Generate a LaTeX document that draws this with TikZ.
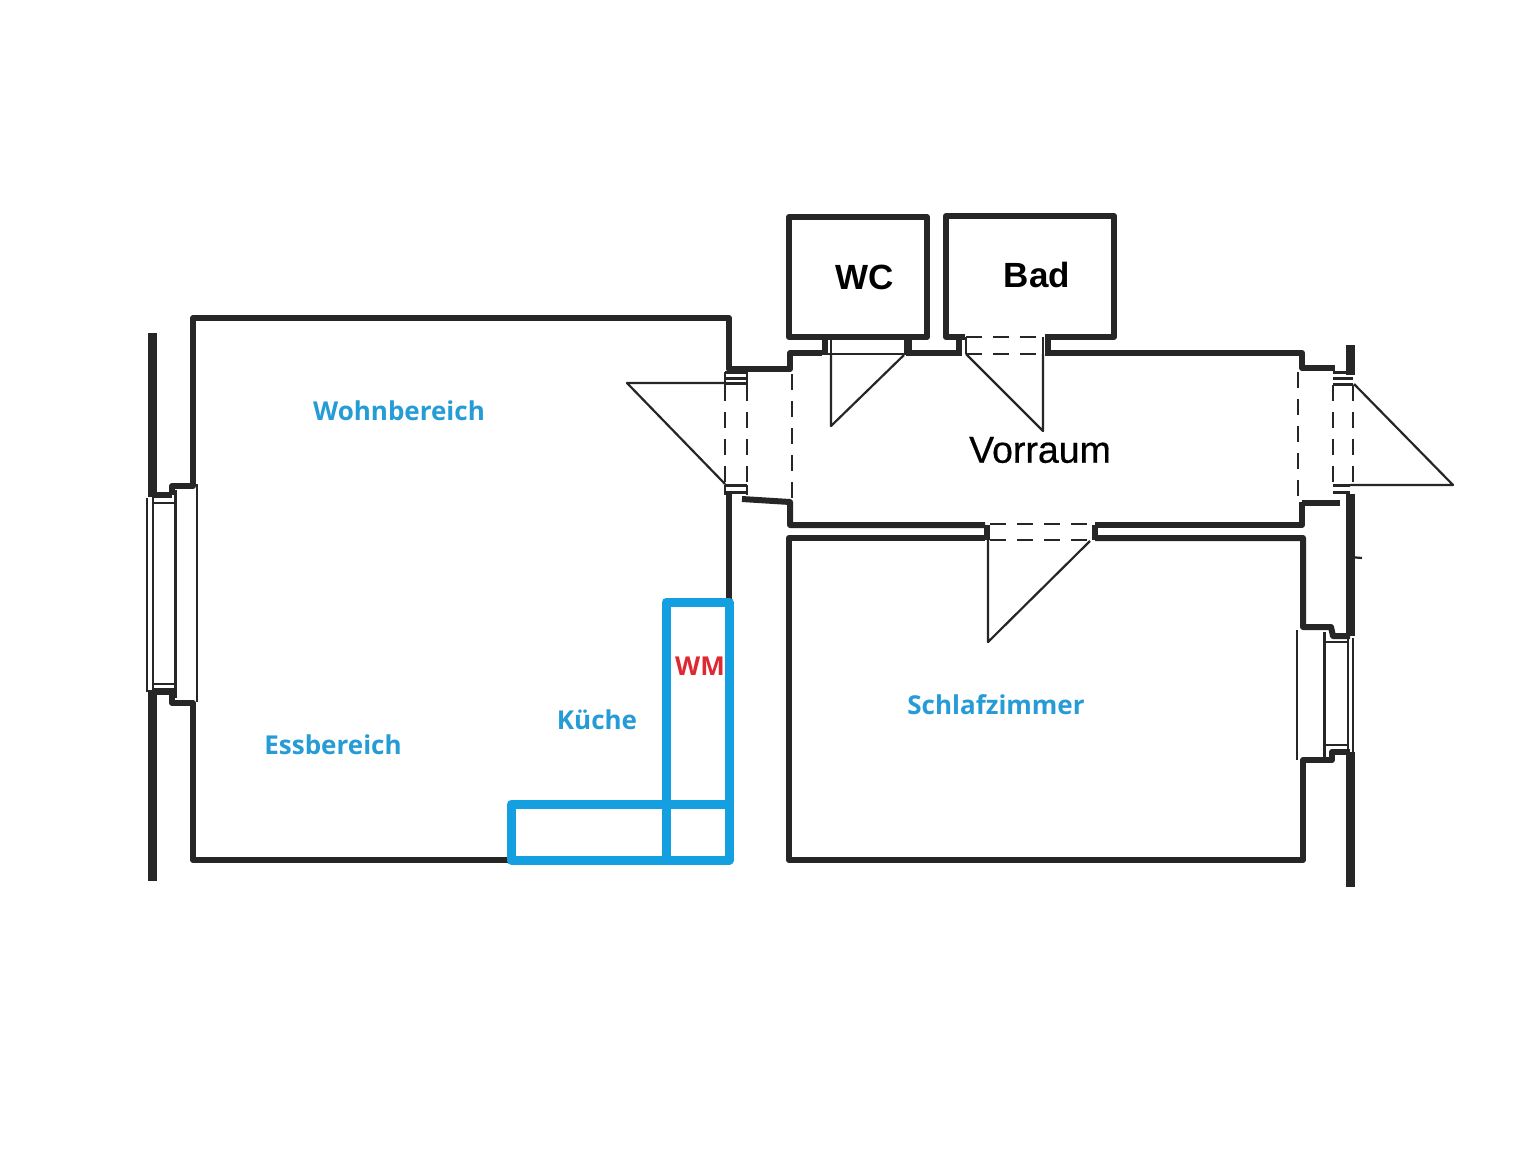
\documentclass[tikz,border=0pt]{standalone}
\usepackage{fontspec}
\setmainfont{Liberation Sans}
\newfontfamily\labelfont{Open Sans}
\newfontfamily\hallfont[FakeBold=0.5]{Liberation Sans}
\definecolor{planblue}{RGB}{20,160,224}
\definecolor{labelblue}{RGB}{38,156,214}
\definecolor{wmred}{RGB}{222,40,50}
\definecolor{planblack}{RGB}{38,38,38}
\tikzset{
	wall/.style={draw=planblack, line width=6pt},
	heavy/.style={draw=planblack, line width=9pt},
	med/.style={draw=planblack, line width=3pt},
	fine/.style={draw=planblack, line width=2.2pt},
	gap/.style={draw=planblack, line width=2.8pt, dash pattern=on 16pt off 11pt},
	room/.style={font=\bfseries\fontsize{35}{35}\selectfont, text=black},
	area/.style={font=\labelfont\bfseries\fontsize{26}{26}\selectfont, text=labelblue},
	unit/.style={draw=planblue, line width=9pt}
}
\begin{document}
\begin{tikzpicture}[x=1pt, y=-1pt, line join=round, line cap=butt]
	\useasboundingbox (0,0) rectangle (1536,1152);
	\fill[white] (0,0) rectangle (1536,1152);
	% outer walls
	\draw[heavy] (152,333)--(152,497);
	\draw[heavy] (152,690)--(152,881);
	\draw[heavy] (1350,345)--(1350,375);
	\draw[heavy] (1350,494)--(1350,636);
	\draw[heavy] (1350,752)--(1350,887);
	\draw[fine] (1350,557)--(1362,558);
	% living room
	\draw[wall] (172,495)--(172,486)--(193,486)--(193,318)--(729,318)--(729,369)--(790,369)--(790,353)--(822,353);
	\draw[wall] (152,495)--(172,495);
	\draw[wall] (152,692)--(172,692)--(172,703)--(193,703)--(193,860)--(729,860);
	\draw[wall] (729,494)--(729,600);
	% left window
	\draw[fine] (147,498)--(147,692);
	\draw[fine] (153,498)--(153,692);
	\draw[med] (175,490)--(175,698);
	\draw[fine] (197,484)--(197,702);
	\draw[fine] (154,503)--(175,503);
	\draw[fine] (154,684)--(175,684);
	\draw[fine] (154,689)--(175,689);
	% wc and bath
	\draw[wall] (789,337) -- (789,217) -- (927,217) -- (927,337) -- cycle;
	\draw[wall] (965,337) -- (946,337) -- (946,216) -- (1114,216) -- (1114,337) -- (1045,337);
	\draw[gap] (966,337)--(1045,337);
	\draw[gap] (966,354)--(1045,354);
	\draw[fine] (822,354)--(906,354);
	% door jambs up top
	\draw[wall] (825,337)--(825,354);
	\draw[wall] (909,337)--(909,354);
	\draw[wall] (959,337)--(959,354);
	\draw[wall] (1048,337)--(1048,354);
	\draw[fine] (831,337)--(831,354);
	\draw[fine] (905,337)--(905,354);
	\draw[fine] (966,337)--(966,354);
	\draw[fine] (1043,337)--(1043,354);
	\draw[wall] (906,353)--(962,353);
	\draw[wall] (1045,353)--(1302,353)--(1302,368)--(1335,368);
	% hall doorways
	\draw[wall] (742,499)--(790,502)--(790,525)--(985,525);
	\draw[wall] (1302,502)--(1302,525)--(1095,525);
	\draw[wall] (1340,503)--(1302,503);
	\draw[gap] (725,385)--(725,485);
	\draw[gap] (747,385)--(747,485);
	\draw[gap] (792,374)--(792,500);
	\draw[gap] (1298,372)--(1298,500);
	\draw[gap] (1333,385)--(1333,485);
	\draw[gap] (1353,385)--(1353,485);
	\draw[med] (725,372)--(747,372) (725,378)--(747,378) (725,383)--(747,383);
	\draw[fine] (725,372)--(725,385) (747,372)--(747,385);
	\draw[med] (725,485)--(747,485) (725,492)--(747,492);
	\draw[fine] (725,485)--(725,495) (747,485)--(747,495);
	\draw[med] (1333,372)--(1353,372) (1333,378)--(1353,378) (1333,384)--(1353,384);
	\draw[med] (1333,485)--(1350,485) (1333,492)--(1350,492);
	% bedroom
	\draw[wall] (985,538)--(789,538)--(789,860)--(1303,860)--(1303,760)--(1332,760)--(1332,752)--(1350,752);
	\draw[wall] (1095,538)--(1303,538)--(1303,627)--(1331,627)--(1333,636)--(1350,636);
	\draw[wall] (987,525)--(987,540);
	\draw[wall] (1095,525)--(1095,540);
	\draw[gap] (990,524)--(1092,524);
	\draw[gap] (990,540)--(1092,540);
	% right window
	\draw[fine] (1297,630)--(1297,760);
	\draw[med] (1324,632)--(1324,758);
	\draw[fine] (1348,638)--(1348,752);
	\draw[fine] (1353,638)--(1353,752);
	\draw[fine] (1324,642)--(1348,642) (1324,745)--(1348,745);
	% door swings
	\draw[fine] (725,383)--(627,383)--(725,484);
	\draw[fine] (831,354)--(831,426)--(904,355);
	\draw[fine] (966,354)--(1043,431)--(1043,354);
	\draw[fine] (988,540)--(988,642)--(1090,541);
	\draw[fine] (1354,384)--(1453,485)--(1350,485);
	% kitchen unit
	\draw[unit] (511,804) rectangle (729,860);
	\draw[unit] (666,602) rectangle (729,860);
	% labels
	\node[room] (wc) at (865,277) {WC};
	\node[room] (bad) at (1037,275) {Bad};
	\node[font=\hallfont\fontsize{37.5}{37.5}\selectfont, text=black] (vorraum) at (1040,450) {Vorraum};
	\node[area] (wohn) at (399,411) {Wohnbereich};
	\node[area] (ess) at (333,745) {Essbereich};
	\node[area] (kueche) at (597,720) {Küche};
	\node[area] (schlaf) at (996,705) {Schlafzimmer};
	\node[area, text=wmred] (wm) at (700,666) {WM};
\end{tikzpicture}
\end{document}
